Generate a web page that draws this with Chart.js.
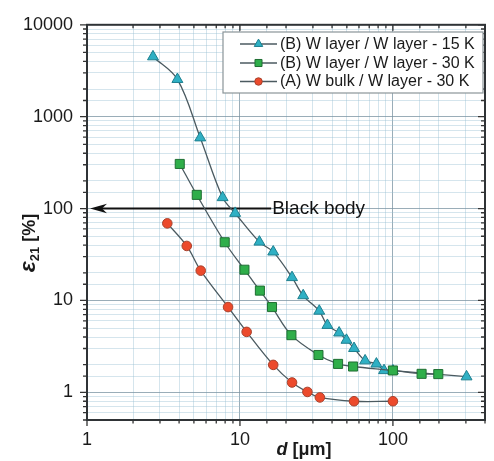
<!DOCTYPE html>
<html>
<head>
<meta charset="utf-8">
<script src="https://cdn.jsdelivr.net/npm/chart.js@4/dist/chart.umd.min.js"></script>
<style>
html,body{margin:0;padding:0;background:#fff;}
#wrap{width:494px;height:461px;position:relative;}
</style>
</head>
<body>
<div id="wrap"><canvas id="c" width="494" height="461"></canvas></div>
<script>
// ---- data ----
const xB15 = [2.7, 3.9, 5.5, 7.7, 9.3, 13.4, 16.5, 21.9, 25.9, 33.0, 37.3, 44.5, 49.7, 55.7, 65.8, 78, 87.5, 100, 303];
const yB15 = [4500, 2550, 590, 132, 89, 43.3, 33.8, 17.8, 11.3, 7.67, 5.37, 4.44, 3.70, 3.01, 2.21, 2.04, 1.73, 1.72, 1.48];

const xB30 = [4.04, 5.22, 7.95, 10.7, 13.5, 16.2, 21.7, 32.6, 43.8, 54.9, 100, 154, 198];
const yB30 = [306, 141, 43, 21.6, 12.8, 8.47, 4.19, 2.55, 2.04, 1.91, 1.73, 1.59, 1.58];

const xA30 = [3.35, 4.49, 5.54, 8.36, 11.06, 16.5, 21.9, 27.6, 33.3, 55.7, 100];
const yA30 = [69, 39.2, 21.1, 8.47, 4.55, 1.99, 1.28, 1.01, 0.88, 0.80, 0.80];

const seriesLabels = ['(B) W layer / W layer - 15 K', '(B) W layer / W layer - 30 K', '(A) W bulk / W layer - 30 K'];
const xTickLabels = ['1', '10', '100'];
const yTickLabels = ['1', '10', '100', '1000', '10000'];
const blackBodyValue = 100;
const blackBodyText = 'Black body';

const FONT = "'Liberation Sans', Arial, sans-serif";
const LINE_COLOR = '#4b5a60';
const styles = [
  {pointStyle:'triangle', radius:6.3, fill:'#2fb0c4', border:'#1d7f8f'},
  {pointStyle:'rect', radius:6.4, fill:'#2fae4a', border:'#1f6e33'},
  {pointStyle:'circle', radius:4.8, fill:'#ec4a2c', border:'#a8432e'}
];

function pts(xs, ys){ return xs.map((x,i)=>({x:x, y:ys[i]})); }
function isDecade(v){ const l = Math.log10(v); return Math.abs(l - Math.round(l)) < 1e-6; }

function mkDataset(i, xs, ys, order){
  const s = styles[i];
  return {
    label: seriesLabels[i], data: pts(xs, ys),
    borderColor: LINE_COLOR, borderWidth: 1.3,
    pointStyle: s.pointStyle, pointRadius: s.radius,
    pointBackgroundColor: s.fill, pointBorderColor: s.border, pointBorderWidth: 1,
    tension: 0.35, fill: false, order: order
  };
}

const overlay = {
  id: 'overlay',
  beforeDraw(chart){
    const ctx = chart.ctx;
    ctx.save(); ctx.fillStyle = '#fff'; ctx.fillRect(0,0,chart.width,chart.height); ctx.restore();
  },
  beforeDatasetsDraw(chart){
    const ctx = chart.ctx, xs = chart.scales.x, ys = chart.scales.y, ca = chart.chartArea;
    // Black body arrow
    const y = ys.getPixelForValue(blackBodyValue);
    const tip = ca.left + 3;
    const endX = xs.getPixelForValue(16);
    ctx.save();
    ctx.strokeStyle = '#111'; ctx.lineWidth = 2;
    ctx.beginPath(); ctx.moveTo(tip + 10, y); ctx.lineTo(endX, y); ctx.stroke();
    ctx.fillStyle = '#111';
    ctx.beginPath();
    ctx.moveTo(tip, y);
    ctx.lineTo(tip + 17, y - 4.8);
    ctx.lineTo(tip + 12, y);
    ctx.lineTo(tip + 17, y + 4.8);
    ctx.closePath(); ctx.fill();
    ctx.font = '19px ' + FONT; ctx.textBaseline = 'middle'; ctx.textAlign = 'left';
    ctx.fillText(blackBodyText, endX + 1, y);
    ctx.restore();
  },
  afterDraw(chart){
    const ctx = chart.ctx, xs = chart.scales.x, ys = chart.scales.y, ca = chart.chartArea;
    ctx.save();
    // ticks
    ctx.strokeStyle = '#333'; ctx.lineWidth = 1.3;
    xs.ticks.forEach(t => {
      const p = xs.getPixelForValue(t.value);
      const L = isDecade(t.value) ? 6 : 3.5;
      ctx.beginPath();
      ctx.moveTo(p, ca.bottom); ctx.lineTo(p, ca.bottom + L);
      ctx.moveTo(p, ca.top); ctx.lineTo(p, ca.top + L);
      ctx.stroke();
    });
    ys.ticks.forEach(t => {
      const p = ys.getPixelForValue(t.value);
      const L = isDecade(t.value) ? 7 : 4;
      ctx.beginPath();
      ctx.moveTo(ca.left, p); ctx.lineTo(ca.left - L, p);
      ctx.moveTo(ca.right, p); ctx.lineTo(ca.right - L, p);
      ctx.stroke();
    });
    // frame
    ctx.strokeStyle = '#2f3336'; ctx.lineWidth = 2;
    ctx.strokeRect(ca.left, ca.top, ca.right - ca.left, ca.bottom - ca.top);

    // legend
    const lx = 223, ly = 32, lw = 260, lh = 61;
    ctx.fillStyle = '#fff'; ctx.fillRect(lx, ly, lw, lh);
    ctx.strokeStyle = '#8a9498'; ctx.lineWidth = 1.2; ctx.strokeRect(lx, ly, lw, lh);
    const rows = [44, 63, 81.5];
    ctx.font = '16px ' + FONT; ctx.textBaseline = 'middle'; ctx.textAlign = 'left';
    seriesLabels.forEach((lab, i) => {
      const yy = rows[i];
      ctx.strokeStyle = LINE_COLOR; ctx.lineWidth = 1.4;
      ctx.beginPath(); ctx.moveTo(240, yy); ctx.lineTo(277, yy); ctx.stroke();
      const s = styles[i];
      ctx.fillStyle = s.fill; ctx.strokeStyle = s.border; ctx.lineWidth = 1;
      Chart.helpers.drawPoint(ctx, {pointStyle: s.pointStyle, radius: s.radius * 0.78, rotation: 0, borderWidth: 1}, 258.5, yy);
      ctx.fillStyle = '#1a1a1a';
      ctx.fillText(lab, 280, yy + 0.5);
    });

    // y title
    ctx.save();
    ctx.translate(28, 243);
    ctx.rotate(-Math.PI/2);
    ctx.fillStyle = '#1a1a1a';
    ctx.textBaseline = 'alphabetic'; ctx.textAlign = 'left';
    const f1 = 'italic bold 23px ' + FONT, f2 = 'bold 13px ' + FONT, f3 = 'bold 18px ' + FONT;
    ctx.font = f1; const w1 = ctx.measureText('\u03B5').width;
    ctx.font = f2; const w2 = ctx.measureText('21').width;
    ctx.font = f3; const w3 = ctx.measureText(' [%]').width;
    let x0 = -(w1 + w2 + w3) / 2;
    const base = 7;
    ctx.font = f1; ctx.fillText('\u03B5', x0, base); x0 += w1;
    ctx.font = f2; ctx.fillText('21', x0, base + 4); x0 += w2;
    ctx.font = f3; ctx.fillText(' [%]', x0, base);
    ctx.restore();

    // x title
    ctx.fillStyle = '#1a1a1a'; ctx.textBaseline = 'alphabetic'; ctx.textAlign = 'left';
    const g1 = 'italic bold 18px ' + FONT, g2 = 'bold 18px ' + FONT;
    ctx.font = g1; const d1 = ctx.measureText('d').width;
    ctx.font = g2; const d2 = ctx.measureText(' [\u03BCm]').width;
    let xx = 304 - (d1 + d2) / 2;
    ctx.font = g1; ctx.fillText('d', xx, 455); xx += d1;
    ctx.font = g2; ctx.fillText(' [\u03BCm]', xx, 455);
    ctx.restore();
  }
};

const gridColor = (ctx) => {
  const v = ctx.tick ? ctx.tick.value : 1;
  return isDecade(v) ? 'rgba(120,145,160,0.75)' : 'rgba(150,190,210,0.4)';
};

new Chart(document.getElementById('c'), {
  type: 'line',
  data: {
    datasets: [
      mkDataset(0, xB15, yB15, 3),
      mkDataset(1, xB30, yB30, 2),
      mkDataset(2, xA30, yA30, 1)
    ]
  },
  options: {
    responsive: false, animation: false,
    layout: {padding: {left: 0, top: 22, right: 8, bottom: 0}},
    plugins: {legend: {display: false}, tooltip: {enabled: false}},
    scales: {
      x: {
        type: 'logarithmic', min: 1, max: 400,
        afterFit(s){ s.height = 41; },
        grid: {color: gridColor, lineWidth: 1, drawTicks: false},
        border: {display: false},
        ticks: {
          autoSkip: false, maxRotation: 0, padding: 9,
          color: '#1a1a1a', font: {family: FONT, size: 18},
          callback(v){ const s = String(Math.round(v)); return (isDecade(v) && xTickLabels.includes(s)) ? s : ''; }
        }
      },
      y: {
        type: 'logarithmic', min: 0.5, max: 10000,
        afterFit(s){ s.width = 87; },
        grid: {color: gridColor, lineWidth: 1, drawTicks: false},
        border: {display: false},
        ticks: {
          autoSkip: false, padding: 14,
          color: '#1a1a1a', font: {family: FONT, size: 18},
          callback(v){ const s = String(Math.round(v)); return (isDecade(v) && yTickLabels.includes(s)) ? s : ''; }
        }
      }
    }
  },
  plugins: [overlay]
});
</script>
</body>
</html>
